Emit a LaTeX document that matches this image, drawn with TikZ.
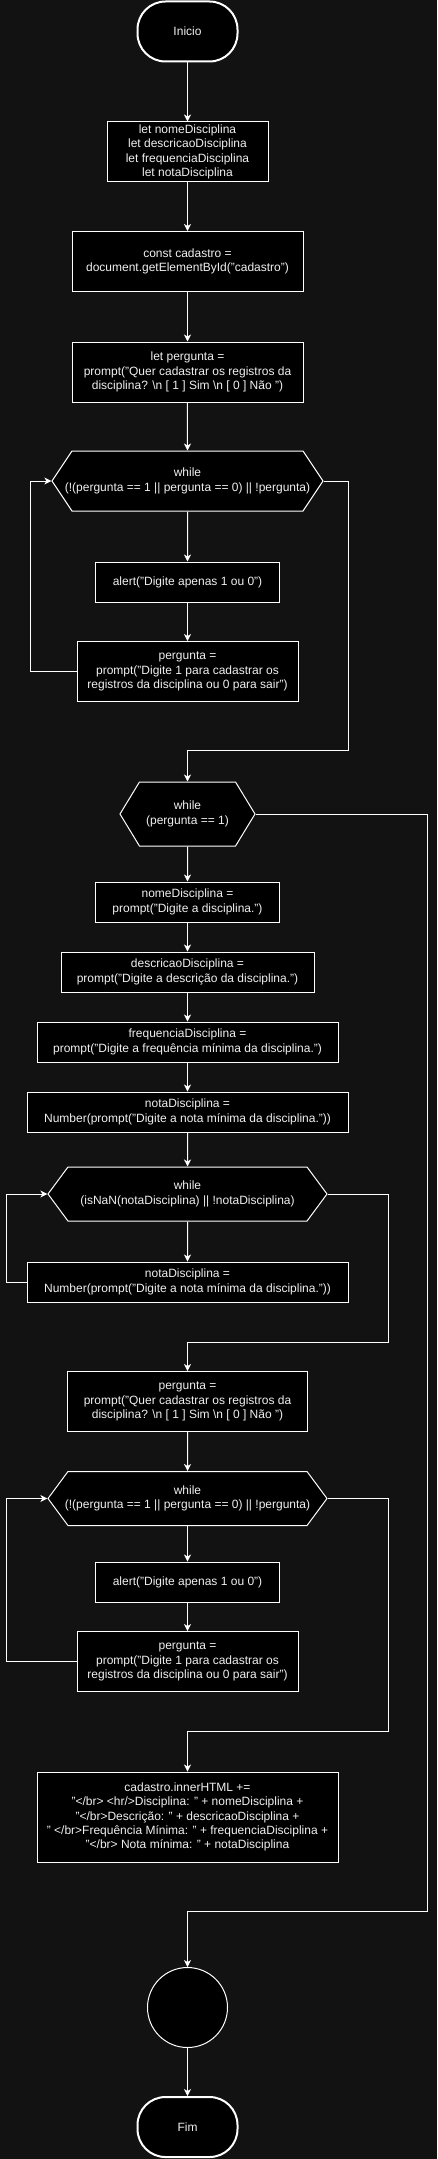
\documentclass[tikz,border=0pt]{standalone}
\usepackage{fontspec}
\setmainfont{Liberation Sans}
\usetikzlibrary{shapes.symbols,arrows.meta}
\definecolor{fundo}{HTML}{121212}
\definecolor{texto}{HTML}{F0F0F0}
\tikzset{
  caixa/.style={draw=white,fill=black,text=texto,line width=1pt,align=center,inner sep=0pt,font=\fontsize{12}{14.4}\selectfont},
  termo/.style={caixa,line width=2pt,rounded corners=28pt,minimum width=100pt,minimum height=60pt},
  laco/.style={caixa,shape=signal,signal to=west and east,inner xsep=-10pt},
  seta/.style={draw=white,line width=1pt,-{Stealth[length=7pt,width=7pt,inset=2pt]}}
}
\begin{document}
\begin{tikzpicture}[x=1pt,y=-1pt]
\useasboundingbox[fill=fundo](0,0)rectangle(437,2159);
\node[termo](inicio)at(187.5,31.5){Inicio};
\node[caixa,minimum width=161pt,minimum height=60pt](vars)at(187.5,152){let nomeDisciplina\\let descricaoDisciplina\\let frequenciaDisciplina\\let notaDisciplina};
\node[caixa,minimum width=231pt,minimum height=60pt](cadastro)at(187.5,261.5){const cadastro =\\document.getElementById("cadastro")};
\node[caixa,minimum width=231pt,minimum height=60pt](pergunta)at(187.5,372){let pergunta =\\prompt("Quer cadastrar os registros da\\disciplina? \textbackslash n [ 1 ] Sim \textbackslash n [ 0 ] Não ")};
\node[laco,minimum width=271pt,minimum height=60pt,signal pointer angle=112.6](while1)at(187.5,481){while\\(!(pergunta == 1 || pergunta == 0) || !pergunta)};
\node[caixa,minimum width=184pt,minimum height=40pt](alerta1)at(187.5,582){alert("Digite apenas 1 ou 0")};
\node[caixa,minimum width=221pt,minimum height=60pt](pergunta1)at(187.5,671.5){pergunta =\\prompt("Digite 1 para cadastrar os\\registros da disciplina ou 0 para sair")};
\node[laco,minimum width=135pt,minimum height=64pt,signal pointer angle=117.4](while2)at(187.5,814){while\\(pergunta == 1)};
\node[caixa,minimum width=184pt,minimum height=40pt](nome)at(187.5,902){nomeDisciplina =\\prompt("Digite a disciplina.")};
\node[caixa,minimum width=253pt,minimum height=40pt](descricao)at(187.5,972){descricaoDisciplina =\\prompt("Digite a descrição da disciplina.")};
\node[caixa,minimum width=301pt,minimum height=40pt](frequencia)at(187.5,1042){frequenciaDisciplina =\\prompt("Digite a frequência mínima da disciplina.")};
\node[caixa,minimum width=321pt,minimum height=40pt](nota)at(187.5,1112){notaDisciplina =\\Number(prompt("Digite a nota mínima da disciplina."))};
\node[laco,minimum width=279pt,minimum height=54pt,signal pointer angle=107](while3)at(187.5,1194){while\\(isNaN(notaDisciplina) || !notaDisciplina)};
\node[caixa,minimum width=321pt,minimum height=40pt](nota2)at(187.5,1282){notaDisciplina =\\Number(prompt("Digite a nota mínima da disciplina."))};
\node[caixa,minimum width=240pt,minimum height=60pt](pergunta2)at(187.5,1401.5){pergunta =\\prompt("Quer cadastrar os registros da\\disciplina? \textbackslash n [ 1 ] Sim \textbackslash n [ 0 ] Não ")};
\node[laco,minimum width=279pt,minimum height=54pt,signal pointer angle=107](while4)at(187.5,1498.5){while\\(!(pergunta == 1 || pergunta == 0) || !pergunta)};
\node[caixa,minimum width=184pt,minimum height=40pt](alerta2)at(187.5,1582){alert("Digite apenas 1 ou 0")};
\node[caixa,minimum width=221pt,minimum height=60pt](pergunta3)at(187.5,1661.5){pergunta =\\prompt("Digite 1 para cadastrar os\\registros da disciplina ou 0 para sair")};
\node[caixa,minimum width=301pt,minimum height=90pt](saida)at(187.5,1817){cadastro.innerHTML +=\\"</br> <hr/>Disciplina: " + nomeDisciplina +\\"</br>Descrição: " + descricaoDisciplina +\\" </br>Frequência Mínima: " + frequenciaDisciplina +\\"</br> Nota mínima: " + notaDisciplina};
\node[caixa,circle,minimum size=80pt](juncao)at(187.5,2007.5){};
\node[termo](fim)at(187.5,2127){Fim};
% fluxo principal
\draw[seta](inicio)--(vars);
\draw[seta](vars)--(cadastro);
\draw[seta](cadastro)--(pergunta);
\draw[seta](pergunta)--(while1);
\draw[seta](while1)--(alerta1);
\draw[seta](alerta1)--(pergunta1);
\draw[seta](pergunta1.west)--++(-46,0)|-(while1.west);
\draw[seta](while1.east)-|(348,750)-|(while2.north);
\draw[seta](while2)--(nome);
\draw[seta](nome)--(descricao);
\draw[seta](descricao)--(frequencia);
\draw[seta](frequencia)--(nota);
\draw[seta](nota)--(while3);
\draw[seta](while3)--(nota2);
\draw[seta](nota2.west)--++(-20,0)|-(while3.west);
\draw[seta](while3.east)-|(388,1342)-|(pergunta2.north);
\draw[seta](pergunta2)--(while4);
\draw[seta](while4)--(alerta2);
\draw[seta](alerta2)--(pergunta3);
\draw[seta](pergunta3.west)--++(-70,0)|-(while4.west);
\draw[seta](while4.east)-|(388,1731)-|(saida.north);
\draw[seta](while2.east)-|(427,1911)-|(juncao.north);
\draw[seta](juncao)--(fim);
\end{tikzpicture}
\end{document}
